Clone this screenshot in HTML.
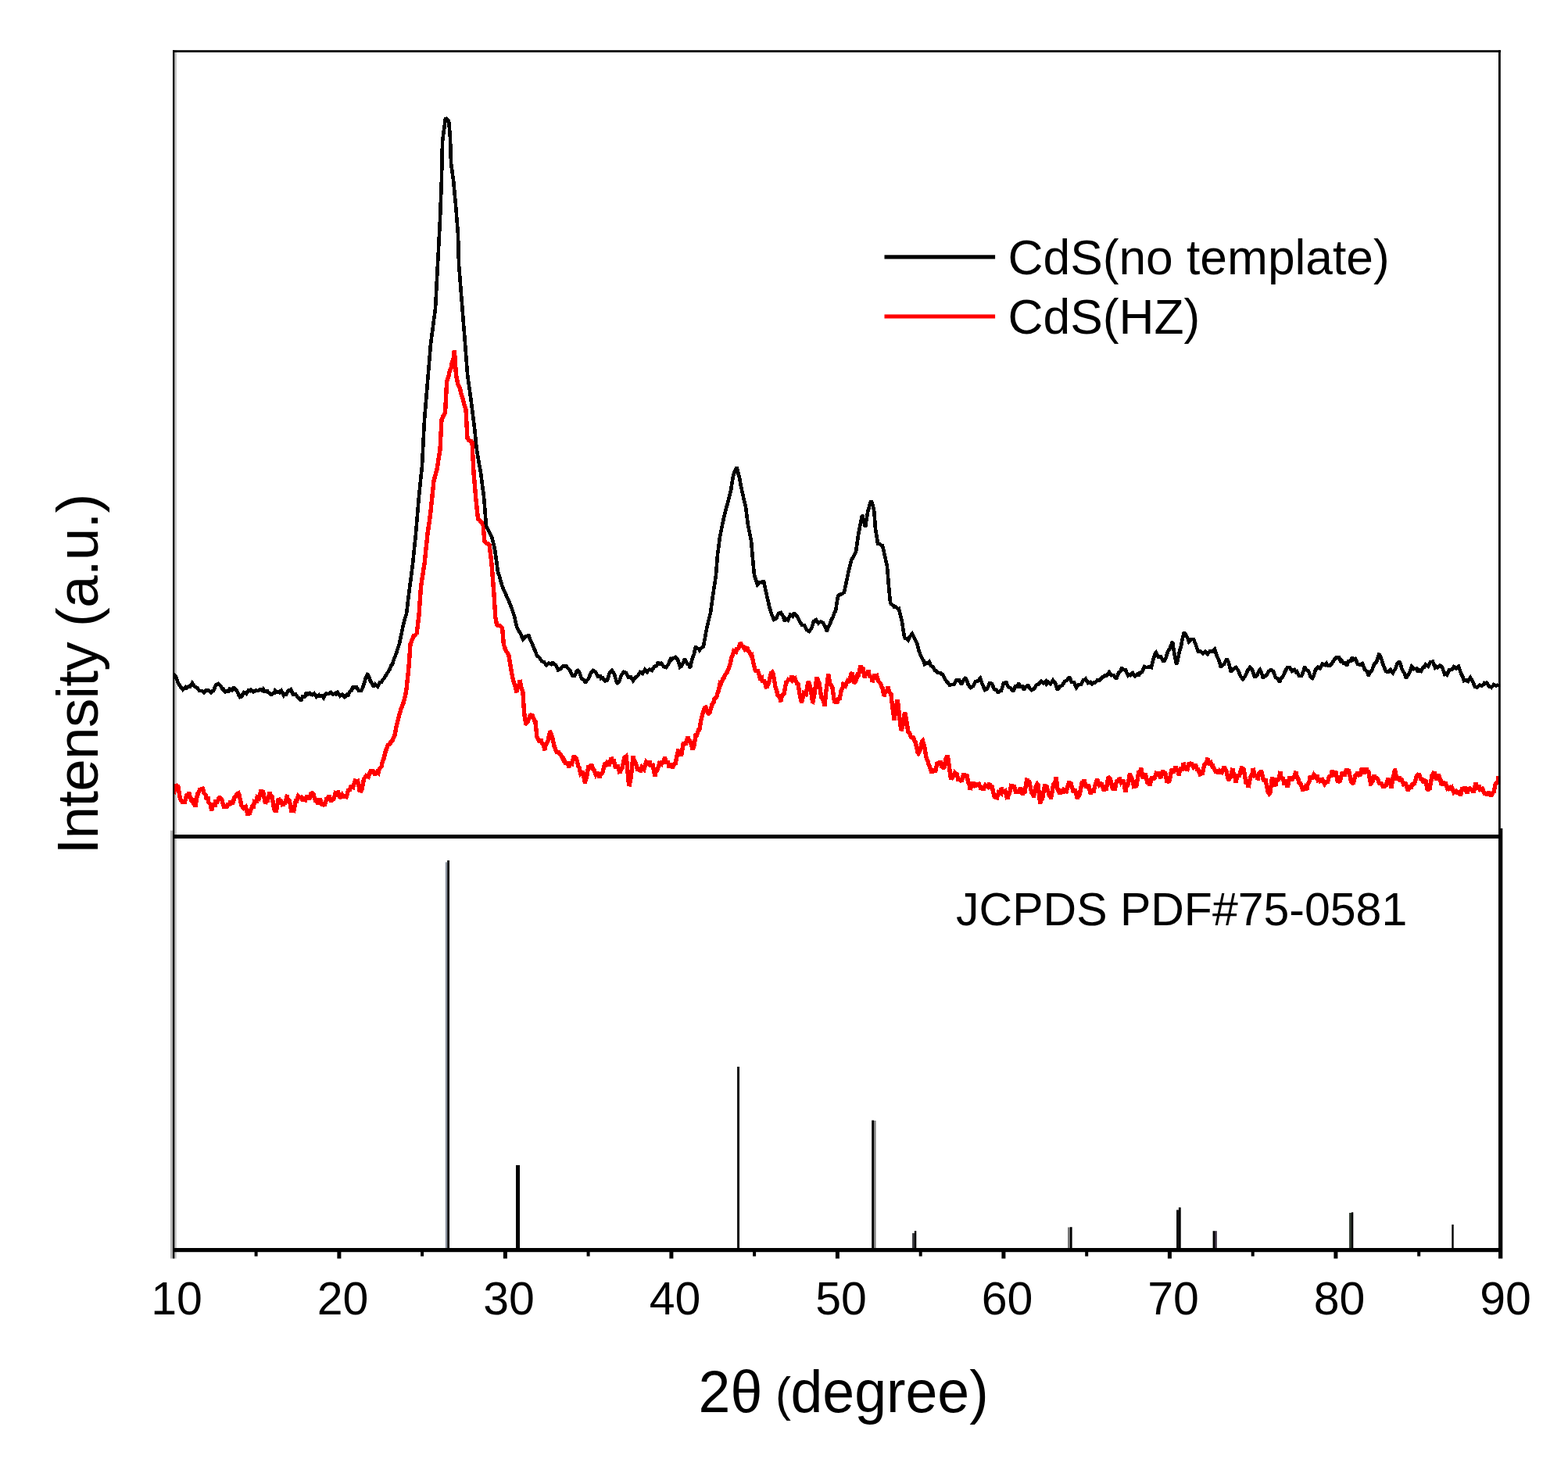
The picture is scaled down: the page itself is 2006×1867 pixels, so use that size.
<!DOCTYPE html>
<html><head><meta charset="utf-8"><title>XRD</title>
<style>html,body{margin:0;padding:0;background:#fff;} svg{display:block;}</style>
</head><body>
<svg width="2006" height="1867" viewBox="0 0 2006 1867" font-family='"Liberation Sans", Arial, sans-serif'>
<rect width="2006" height="1867" fill="#ffffff"/>
<rect x="223" y="64" width="3" height="1004" fill="#c8c8c8"/>
<rect x="218" y="1062.7" width="3" height="547.8" fill="#b4b4b4"/>
<rect x="223" y="1073" width="2.8" height="537.5" fill="#c8c8c8"/>
<defs><clipPath id="pa"><rect x="223" y="67" width="1694" height="1001"/></clipPath></defs>
<g clip-path="url(#pa)">
<path d="M222.0,1016.0 L223.4,1010.0 L224.8,1003.7 L226.8,1007.0 L227.6,1005.0 L230.4,1021.6 L231.4,1024.0 L233.2,1026.4 L234.8,1026.0 L236.0,1028.4 L238.8,1016.3 L240.4,1018.0 L241.6,1014.1 L244.4,1023.0 L246.0,1021.6 L247.2,1028.0 L249.5,1030.7 L250.0,1032.1 L252.8,1013.9 L252.9,1017.0 L255.6,1010.5 L258.4,1010.6 L258.6,1007.0 L261.2,1015.3 L263.0,1017.0 L264.0,1021.4 L266.5,1021.6 L266.8,1026.8 L269.6,1029.5 L270.5,1037.5 L272.4,1029.9 L275.2,1030.3 L275.6,1026.0 L278.0,1026.3 L280.8,1019.6 L281.3,1020.5 L283.6,1023.0 L286.4,1032.3 L288.1,1031.8 L289.2,1034.3 L292.0,1028.1 L293.8,1030.7 L294.8,1024.9 L297.6,1028.9 L300.4,1018.4 L301.7,1020.5 L303.2,1015.8 L305.1,1014.8 L306.0,1017.1 L308.8,1030.5 L309.7,1031.8 L311.6,1034.4 L314.4,1032.4 L317.2,1043.3 L317.6,1037.5 L320.0,1039.0 L322.8,1031.8 L324.4,1031.8 L325.6,1025.3 L328.4,1025.5 L329.0,1020.5 L331.2,1021.9 L334.0,1010.7 L334.6,1014.8 L336.8,1014.2 L339.6,1028.9 L340.3,1026.0 L342.4,1024.8 L345.2,1013.8 L346.0,1017.0 L348.0,1019.1 L350.8,1036.0 L351.7,1037.5 L353.6,1037.2 L356.4,1021.2 L357.3,1024.0 L359.2,1024.2 L361.9,1031.8 L362.0,1027.8 L364.8,1027.5 L367.6,1017.0 L367.6,1022.2 L370.4,1024.6 L373.2,1039.8 L373.2,1034.7 L376.0,1036.6 L378.8,1022.6 L378.9,1027.3 L381.6,1018.6 L384.4,1021.1 L384.6,1018.2 L387.2,1024.9 L390.0,1020.7 L390.2,1026.0 L392.8,1017.8 L395.6,1022.8 L398.4,1013.7 L399.3,1014.8 L401.2,1016.9 L403.9,1026.0 L404.0,1022.1 L406.8,1028.5 L409.6,1022.3 L412.4,1030.9 L413.0,1028.4 L415.2,1031.3 L418.0,1021.0 L418.6,1022.7 L420.8,1017.8 L423.6,1025.9 L425.0,1022.0 L426.4,1024.0 L429.2,1014.9 L432.0,1016.0 L432.0,1011.8 L434.8,1021.5 L437.6,1017.1 L440.0,1021.0 L440.4,1018.7 L443.2,1019.6 L446.0,1009.4 L447.0,1012.0 L448.8,1006.9 L451.6,1007.7 L454.4,999.0 L457.0,1000.0 L457.2,996.9 L460.0,1011.2 L462.0,1012.0 L462.8,1010.8 L465.6,996.4 L467.0,995.0 L468.4,992.8 L471.2,994.1 L474.0,987.0 L476.0,987.0 L476.8,985.5 L479.6,991.6 L482.4,987.6 L484.0,989.0 L485.2,983.9 L488.0,981.2 L489.0,976.0 L490.8,971.3 L493.6,960.3 L494.0,960.0 L496.4,953.3 L499.2,951.8 L500.0,949.0 L502.0,947.6 L504.8,940.8 L505.0,941.0 L507.6,927.0 L508.0,926.0 L510.4,916.4 L512.0,911.0 L513.2,906.5 L516.0,900.0 L516.0,899.6 L518.8,888.7 L520.0,882.0 L521.6,866.8 L523.0,853.0 L524.4,833.8 L525.0,824.0 L527.2,818.8 L529.0,814.0 L530.0,814.0 L532.8,811.1 L533.0,812.0 L535.6,789.9 L536.0,787.0 L538.4,752.1 L538.5,751.0 L541.2,732.9 L543.0,722.0 L544.0,711.8 L546.8,685.2 L547.0,683.0 L549.6,665.2 L551.0,654.0 L552.4,640.7 L555.0,615.0 L555.2,614.5 L558.0,604.0 L559.0,601.0 L560.8,589.0 L563.0,576.0 L563.6,563.4 L565.0,537.0 L566.4,533.6 L569.2,528.4 L569.6,527.0 L571.6,489.0 L572.0,487.3 L574.5,479.0 L574.8,476.8 L577.6,469.1 L578.0,465.0 L580.4,457.8 L581.3,448.0 L583.2,475.5 L584.0,483.0 L586.0,491.6 L588.8,498.4 L590.0,504.0 L591.6,508.2 L594.4,519.5 L596.0,524.0 L597.2,546.7 L598.0,561.0 L600.0,563.5 L602.8,564.5 L604.0,566.0 L605.6,596.9 L606.0,605.0 L608.4,633.1 L608.5,635.0 L611.2,660.9 L611.4,664.0 L614.0,666.0 L616.8,670.0 L618.0,670.0 L619.6,689.3 L620.0,693.0 L622.4,695.5 L625.2,696.1 L626.0,697.0 L628.0,712.5 L629.0,722.0 L630.8,744.9 L632.0,761.0 L633.6,785.9 L633.8,790.0 L635.5,799.0 L636.4,800.1 L639.2,800.3 L642.0,802.9 L642.5,802.0 L644.6,827.0 L644.8,826.8 L647.6,833.1 L650.4,837.5 L651.0,839.0 L653.2,852.3 L654.0,858.0 L656.0,867.8 L656.5,871.0 L658.8,877.0 L661.0,886.0 L661.6,882.3 L664.4,874.5 L665.0,870.0 L667.2,881.1 L669.0,886.0 L670.0,903.1 L671.0,915.0 L672.8,925.9 L673.0,926.0 L675.6,922.6 L678.4,915.1 L679.0,915.0 L681.2,915.6 L684.0,923.0 L685.0,922.0 L686.8,943.2 L687.0,943.0 L689.6,948.2 L692.4,947.9 L693.0,950.0 L695.2,953.0 L697.0,960.0 L698.0,953.2 L700.8,948.6 L703.6,937.1 L704.0,937.0 L706.4,942.5 L709.2,955.5 L710.0,957.0 L712.0,962.3 L714.8,962.5 L715.0,964.0 L717.6,966.1 L720.4,971.6 L721.0,971.0 L723.2,976.2 L726.0,976.9 L728.0,982.0 L728.8,977.0 L731.6,977.7 L734.4,967.0 L735.0,968.0 L737.2,970.1 L740.0,981.2 L741.0,982.0 L742.8,989.7 L745.6,987.1 L748.4,1002.1 L749.0,999.0 L751.2,991.4 L753.0,979.0 L754.0,983.6 L756.8,978.2 L759.6,986.2 L760.0,985.0 L762.4,991.6 L765.2,988.4 L767.0,995.0 L768.0,991.2 L770.8,988.7 L773.6,978.3 L775.0,979.0 L776.4,976.1 L779.2,979.8 L782.0,969.4 L784.0,974.0 L784.8,971.7 L787.6,982.9 L790.4,979.2 L793.0,990.0 L793.2,986.9 L796.0,982.8 L798.8,969.7 L801.0,968.0 L801.6,972.3 L804.4,1002.7 L805.0,1006.0 L807.2,995.2 L810.0,966.9 L810.0,971.0 L812.8,975.1 L815.6,984.4 L818.4,983.8 L819.0,988.0 L821.2,981.6 L824.0,984.4 L826.8,974.8 L829.6,977.3 L831.0,974.0 L832.4,979.5 L835.2,979.2 L838.0,993.8 L838.0,988.0 L840.8,986.0 L843.6,976.8 L846.0,978.0 L846.4,975.3 L849.2,975.3 L850.5,969.0 L852.0,975.6 L854.8,975.9 L856.0,982.0 L857.6,976.9 L860.4,982.3 L863.2,977.2 L864.0,978.0 L866.0,967.6 L867.6,961.0 L868.8,961.3 L871.6,967.4 L872.0,965.0 L874.0,953.0 L874.4,949.9 L877.2,953.2 L880.0,942.4 L880.5,945.0 L882.8,948.4 L885.6,957.2 L887.0,957.0 L888.4,952.2 L890.0,941.0 L891.2,941.2 L894.0,933.1 L895.0,933.0 L896.8,922.1 L898.0,917.0 L899.6,910.6 L902.0,905.0 L902.4,903.2 L905.2,912.0 L906.5,913.0 L908.0,911.8 L910.8,901.9 L913.0,899.0 L913.6,894.8 L916.4,892.7 L919.0,884.0 L919.2,885.5 L921.0,875.0 L922.0,875.8 L924.8,868.6 L926.0,868.0 L927.6,863.6 L930.4,860.1 L933.0,853.0 L933.2,853.4 L936.0,841.3 L938.0,836.0 L938.8,832.7 L941.6,834.1 L943.0,829.0 L944.4,831.2 L947.2,822.5 L950.0,827.6 L950.0,826.0 L952.8,831.0 L955.6,828.0 L957.0,833.0 L958.4,833.7 L961.2,839.6 L962.0,839.0 L964.0,848.7 L966.0,857.0 L966.8,858.7 L969.6,858.7 L972.4,867.7 L974.5,867.0 L975.2,871.2 L978.0,871.8 L980.8,881.0 L981.0,879.0 L983.6,873.7 L986.4,861.3 L988.0,860.0 L989.2,862.1 L992.0,878.9 L993.5,883.0 L994.8,889.2 L997.6,892.7 L999.0,898.0 L1000.4,889.6 L1003.2,887.5 L1006.0,871.2 L1006.0,874.0 L1008.8,869.4 L1011.6,869.8 L1013.0,865.0 L1014.4,870.4 L1017.2,868.2 L1020.0,876.3 L1021.0,874.0 L1022.8,886.8 L1025.0,897.0 L1025.6,899.1 L1028.4,886.8 L1031.2,888.4 L1034.0,872.1 L1035.0,874.0 L1036.8,879.9 L1039.6,897.8 L1040.0,898.0 L1042.4,885.3 L1045.0,866.0 L1045.2,867.8 L1048.0,873.6 L1050.8,892.5 L1053.6,896.6 L1055.0,904.0 L1056.4,887.9 L1059.2,867.9 L1059.5,862.0 L1062.0,875.1 L1064.8,878.8 L1067.6,899.2 L1068.0,896.0 L1070.4,900.1 L1073.2,892.9 L1074.0,896.0 L1076.0,884.2 L1078.8,878.3 L1079.0,876.0 L1081.6,877.7 L1084.4,871.3 L1087.0,873.0 L1087.2,868.6 L1089.0,862.0 L1090.0,860.8 L1092.8,872.9 L1093.5,873.0 L1095.6,870.4 L1097.0,863.0 L1098.4,863.4 L1101.2,851.6 L1101.6,855.0 L1104.0,855.4 L1106.5,868.0 L1106.8,863.5 L1109.6,862.1 L1111.0,858.0 L1112.4,865.3 L1115.2,866.6 L1116.0,873.0 L1118.0,864.8 L1120.8,865.1 L1121.0,862.0 L1123.6,871.7 L1126.4,874.4 L1127.5,878.0 L1129.2,880.8 L1131.0,891.0 L1132.0,886.3 L1134.8,883.9 L1136.0,879.0 L1137.6,885.6 L1140.0,888.0 L1140.4,894.3 L1143.2,914.4 L1144.0,922.0 L1146.0,906.7 L1148.0,896.0 L1148.8,899.7 L1151.6,925.3 L1153.0,935.0 L1154.4,931.0 L1157.2,913.7 L1158.0,912.0 L1160.0,923.9 L1162.0,938.0 L1162.8,936.4 L1165.6,943.4 L1168.4,943.9 L1170.0,948.0 L1171.2,949.8 L1174.0,962.4 L1175.0,964.0 L1176.8,961.1 L1179.6,948.8 L1180.5,948.0 L1182.4,954.4 L1185.2,969.9 L1187.0,974.0 L1188.0,977.8 L1190.8,984.7 L1192.0,989.0 L1193.6,984.2 L1196.4,988.1 L1199.2,975.3 L1202.0,979.1 L1203.0,974.0 L1204.8,981.0 L1207.0,982.0 L1207.6,983.9 L1210.4,969.8 L1212.0,967.0 L1213.2,972.5 L1216.0,993.4 L1217.0,997.0 L1218.8,994.9 L1221.6,988.6 L1222.0,989.0 L1224.4,991.1 L1226.0,999.0 L1227.2,996.1 L1230.0,1000.3 L1232.8,990.1 L1235.6,994.6 L1237.0,991.0 L1238.4,1000.4 L1241.0,1007.0 L1241.2,1010.8 L1244.0,1001.2 L1246.8,1004.8 L1249.0,1002.0 L1249.6,1004.6 L1252.4,1003.3 L1255.0,1010.0 L1255.2,1006.2 L1258.0,1010.5 L1260.8,1004.6 L1263.6,1006.9 L1266.0,1002.0 L1266.4,1007.5 L1269.2,1007.1 L1272.0,1019.2 L1274.8,1020.0 L1275.0,1023.0 L1277.6,1013.7 L1280.4,1015.3 L1281.0,1008.0 L1283.2,1013.6 L1286.0,1012.1 L1288.8,1022.9 L1289.0,1020.0 L1291.6,1015.0 L1294.0,1003.0 L1294.4,1008.9 L1297.2,1005.1 L1300.0,1015.0 L1302.0,1012.0 L1302.8,1014.7 L1305.6,1007.7 L1308.4,1017.1 L1310.0,1012.0 L1311.2,1012.6 L1314.0,995.7 L1314.0,999.0 L1316.8,1000.2 L1319.6,1013.8 L1322.0,1018.0 L1322.4,1020.0 L1325.2,1006.0 L1327.0,1003.0 L1328.0,1004.2 L1330.8,1028.5 L1331.0,1024.0 L1333.6,1022.2 L1336.4,1005.7 L1338.0,1006.0 L1339.2,1006.7 L1342.0,1017.0 L1344.0,1020.0 L1344.8,1020.0 L1347.6,1004.3 L1350.4,998.9 L1351.0,994.0 L1353.2,1010.9 L1355.0,1014.0 L1356.0,1016.0 L1358.8,1009.7 L1361.0,1015.0 L1361.6,1011.0 L1364.4,1012.6 L1367.2,1002.0 L1369.0,1002.0 L1370.0,1002.2 L1372.8,1012.2 L1375.6,1011.8 L1378.4,1022.4 L1379.0,1020.0 L1381.2,1017.0 L1384.0,1002.0 L1386.0,1002.0 L1386.8,997.6 L1389.6,1008.4 L1392.4,1003.8 L1395.2,1016.0 L1398.0,1010.2 L1399.0,1014.0 L1400.8,1005.5 L1403.0,999.0 L1403.6,997.2 L1406.4,1004.6 L1409.2,1001.7 L1412.0,1011.7 L1414.8,1008.8 L1415.0,1012.0 L1417.6,995.7 L1419.0,995.0 L1420.4,996.3 L1423.2,1008.9 L1425.0,1009.0 L1426.0,1011.0 L1428.8,998.3 L1431.6,1001.2 L1432.0,995.0 L1434.4,1001.5 L1437.2,998.3 L1440.0,1013.6 L1440.0,1008.0 L1442.8,1004.4 L1445.6,989.7 L1446.0,993.0 L1448.4,996.3 L1451.0,1009.0 L1451.2,1004.8 L1454.0,1005.0 L1456.8,988.0 L1459.0,987.0 L1459.6,982.4 L1462.4,996.5 L1465.2,989.6 L1468.0,1001.8 L1470.0,1002.0 L1470.8,1005.5 L1473.6,994.0 L1476.4,997.4 L1479.2,989.5 L1481.0,990.0 L1482.0,988.1 L1484.8,995.7 L1487.6,986.2 L1489.0,989.0 L1490.4,987.6 L1493.2,1001.3 L1495.0,999.0 L1496.0,999.0 L1498.8,986.1 L1501.6,987.2 L1504.0,981.0 L1504.4,983.0 L1507.2,987.7 L1508.0,992.0 L1510.0,984.1 L1512.8,984.1 L1514.0,976.0 L1515.6,983.3 L1518.0,983.0 L1518.4,986.9 L1521.2,975.9 L1524.0,979.3 L1524.0,976.0 L1526.8,981.5 L1529.6,978.3 L1532.0,986.0 L1532.4,983.1 L1535.2,990.9 L1537.0,990.0 L1538.0,991.1 L1540.8,978.8 L1543.6,976.0 L1545.0,970.0 L1546.4,978.6 L1549.2,976.2 L1551.0,981.0 L1552.0,980.7 L1554.8,986.9 L1557.6,986.5 L1559.0,990.0 L1560.4,986.2 L1563.2,988.4 L1566.0,981.2 L1567.0,983.0 L1568.8,986.1 L1571.6,998.8 L1572.0,998.0 L1574.4,994.1 L1577.0,983.0 L1577.2,986.8 L1580.0,994.4 L1581.0,1002.0 L1582.8,992.7 L1585.6,992.3 L1588.4,982.8 L1589.0,983.0 L1591.2,984.3 L1594.0,1001.8 L1596.8,1002.4 L1597.0,1008.0 L1599.6,995.4 L1602.4,989.0 L1603.0,983.0 L1605.2,992.8 L1608.0,992.5 L1609.0,998.0 L1610.8,989.6 L1613.0,987.0 L1613.6,986.0 L1616.4,998.1 L1619.2,998.7 L1622.0,1013.3 L1624.0,1016.0 L1624.8,1015.3 L1627.6,994.5 L1628.0,996.0 L1630.4,1000.0 L1632.0,1006.0 L1633.2,997.9 L1636.0,997.3 L1638.0,987.0 L1638.8,994.1 L1641.6,996.2 L1643.0,1005.0 L1644.4,997.6 L1647.2,1007.2 L1650.0,993.6 L1652.8,999.5 L1653.0,996.0 L1655.6,994.5 L1658.0,987.0 L1658.4,991.6 L1661.2,997.9 L1662.0,1002.0 L1664.0,1002.5 L1666.8,1011.7 L1669.6,1007.1 L1672.0,1011.0 L1672.4,1004.7 L1675.2,999.9 L1676.0,993.0 L1678.0,996.9 L1680.8,991.2 L1683.6,995.0 L1685.0,992.0 L1686.4,998.6 L1689.0,998.0 L1689.2,999.2 L1692.0,997.6 L1694.8,1003.3 L1697.6,1000.0 L1698.0,1002.0 L1700.4,993.9 L1703.2,992.3 L1704.0,986.0 L1706.0,990.4 L1708.8,987.2 L1711.6,1001.4 L1713.0,999.0 L1714.4,998.9 L1717.2,988.2 L1720.0,993.1 L1722.8,983.7 L1724.0,986.0 L1725.6,986.2 L1728.4,999.7 L1730.0,1002.0 L1731.2,1003.4 L1734.0,992.5 L1736.0,990.0 L1736.8,988.0 L1739.6,993.5 L1742.4,982.7 L1745.2,990.5 L1748.0,982.5 L1749.0,986.0 L1750.8,987.5 L1753.6,1003.1 L1754.0,1003.0 L1756.4,998.9 L1758.0,992.0 L1759.2,994.9 L1762.0,995.9 L1764.8,1002.6 L1767.6,1002.9 L1770.0,1008.0 L1770.4,1006.0 L1773.2,1004.9 L1776.0,995.6 L1776.0,998.0 L1778.8,1002.5 L1780.0,1009.0 L1781.6,996.2 L1784.0,989.0 L1784.4,983.8 L1787.2,998.4 L1790.0,993.9 L1792.0,1000.0 L1792.8,996.2 L1795.6,1003.9 L1798.4,1003.0 L1801.2,1011.9 L1804.0,1004.7 L1805.0,1009.0 L1806.8,1003.8 L1809.6,1002.7 L1812.4,992.8 L1814.0,992.0 L1815.2,989.7 L1818.0,998.3 L1819.0,996.0 L1820.8,1001.5 L1823.6,997.4 L1826.4,1011.7 L1828.0,1009.0 L1829.2,1008.6 L1832.0,992.5 L1834.0,989.0 L1834.8,987.6 L1837.6,997.9 L1840.4,990.8 L1843.2,1000.8 L1844.0,1000.0 L1846.0,1004.7 L1848.8,1000.7 L1851.6,1009.2 L1854.0,1008.0 L1854.4,1009.3 L1857.2,1007.4 L1860.0,1014.2 L1862.8,1012.4 L1865.0,1016.0 L1865.6,1011.4 L1868.4,1018.1 L1871.2,1007.5 L1872.0,1011.0 L1874.0,1006.6 L1876.8,1015.2 L1879.6,1007.8 L1882.0,1011.0 L1882.4,1009.4 L1885.2,1013.9 L1888.0,1001.8 L1890.8,1010.7 L1892.0,1005.0 L1893.6,1010.4 L1896.4,1009.1 L1899.2,1015.3 L1902.0,1015.2 L1903.0,1018.0 L1904.8,1013.3 L1907.6,1018.3 L1910.4,1013.0 L1911.0,1014.0 L1913.2,1002.9 L1916.0,1000.6 L1917.0,993.0" fill="none" stroke="#ff0000" stroke-width="5.4" stroke-linejoin="miter" stroke-miterlimit="2" shape-rendering="crispEdges"/>
<path d="M222.0,862.0 L225.0,866.0 L228.0,874.0 L231.0,879.1 L232.0,880.0 L234.0,882.6 L237.0,879.5 L238.0,882.0 L240.0,878.8 L243.0,878.7 L246.0,874.0 L249.0,878.5 L252.0,880.0 L255.0,883.7 L258.0,884.0 L261.0,886.2 L264.0,883.2 L266.0,884.0 L267.0,883.4 L270.0,886.1 L272.0,884.0 L273.0,884.1 L276.0,876.7 L279.0,875.0 L282.0,877.4 L285.0,882.4 L286.0,882.0 L288.0,885.3 L291.0,884.3 L292.0,886.0 L294.0,881.5 L297.0,883.3 L299.0,879.0 L300.0,880.8 L303.0,884.0 L306.0,890.6 L307.0,892.0 L309.0,891.3 L312.0,886.0 L315.0,887.7 L318.0,883.2 L320.0,884.0 L321.0,883.0 L324.0,885.5 L327.0,883.4 L330.0,884.0 L333.0,882.1 L336.0,883.7 L337.0,882.0 L339.0,884.9 L342.0,884.3 L343.0,886.0 L345.0,886.9 L347.0,890.0 L348.0,887.8 L351.0,886.8 L352.0,884.0 L354.0,885.9 L357.0,885.0 L358.0,886.0 L360.0,884.1 L363.0,889.6 L364.0,888.0 L366.0,888.7 L369.0,883.7 L370.0,884.0 L372.0,882.5 L375.0,888.6 L378.0,888.0 L381.0,892.6 L384.0,894.4 L385.0,897.0 L387.0,891.6 L390.0,891.3 L392.0,886.0 L393.0,889.1 L396.0,887.2 L398.0,890.0 L399.0,887.0 L400.0,889.0 L402.0,887.6 L405.0,891.7 L408.0,889.4 L410.0,892.0 L411.0,889.0 L414.0,892.8 L417.0,887.6 L420.0,888.0 L423.0,886.1 L426.0,888.7 L429.0,886.9 L430.0,888.0 L432.0,886.1 L435.0,890.5 L438.0,888.6 L441.0,891.8 L444.0,889.1 L445.0,891.0 L447.0,885.6 L450.0,882.9 L452.0,878.0 L453.0,879.8 L456.0,879.1 L459.0,883.9 L462.0,884.0 L465.0,877.5 L468.0,867.0 L470.0,863.0 L471.0,863.4 L474.0,871.7 L477.0,876.4 L478.0,879.0 L480.0,875.8 L483.0,878.6 L486.0,872.9 L488.0,873.0 L489.0,870.5 L492.0,867.2 L495.0,862.0 L498.0,857.6 L501.0,850.5 L502.0,850.0 L504.0,843.5 L507.0,836.0 L510.0,826.4 L511.0,824.0 L513.0,813.3 L514.0,809.0 L516.0,799.4 L517.0,795.0 L519.0,788.6 L520.0,786.0 L522.0,768.8 L523.0,761.0 L525.0,745.1 L528.0,722.0 L531.0,692.5 L532.0,683.0 L534.0,658.9 L536.0,635.0 L537.0,625.0 L540.0,596.0 L543.0,537.0 L546.0,501.3 L547.0,489.0 L549.0,464.6 L551.0,440.0 L552.0,432.8 L555.0,409.8 L557.0,395.0 L558.0,375.8 L560.0,338.0 L561.0,318.8 L563.0,281.0 L564.0,254.3 L565.0,228.0 L566.0,181.0 L567.0,173.7 L570.0,151.0 L573.0,154.3 L574.0,153.0 L576.0,177.0 L577.0,209.0 L579.0,223.2 L580.0,230.0 L582.0,251.4 L583.0,262.0 L585.0,287.6 L586.0,300.0 L587.0,338.0 L588.0,350.5 L590.0,376.0 L591.0,388.6 L593.0,414.0 L594.0,426.5 L596.0,452.0 L597.0,465.3 L598.0,479.0 L600.0,493.3 L602.0,508.0 L603.0,515.6 L606.0,539.5 L607.0,547.0 L609.0,566.7 L610.0,576.0 L612.0,587.9 L615.0,605.0 L618.0,627.8 L619.0,635.0 L621.0,660.5 L622.0,673.0 L624.0,677.2 L627.0,682.8 L629.0,687.0 L630.0,690.5 L633.0,703.0 L636.0,724.0 L637.0,732.0 L639.0,737.6 L642.0,748.6 L643.0,751.0 L645.0,756.3 L647.0,760.0 L648.0,762.8 L651.0,768.7 L652.0,772.0 L654.0,776.6 L657.0,785.6 L658.0,788.0 L660.0,797.6 L661.0,802.0 L663.0,806.3 L666.0,810.8 L669.0,818.0 L672.0,814.7 L675.0,813.4 L676.0,812.0 L678.0,818.1 L681.0,823.8 L682.0,827.0 L684.0,831.4 L687.0,839.0 L690.0,841.5 L693.0,846.1 L696.0,847.3 L699.0,851.0 L702.0,848.5 L705.0,849.8 L707.0,847.0 L708.0,849.6 L711.0,850.8 L714.0,857.3 L715.0,857.0 L717.0,856.2 L720.0,852.4 L723.0,853.0 L724.0,851.0 L726.0,854.6 L729.0,857.3 L732.0,864.3 L734.0,865.0 L735.0,864.9 L738.0,858.6 L739.0,858.0 L741.0,859.7 L744.0,868.1 L747.0,870.2 L749.0,874.0 L750.0,871.8 L753.0,868.4 L756.0,860.9 L759.0,858.0 L762.0,860.1 L765.0,865.8 L768.0,865.2 L769.0,868.0 L771.0,867.2 L774.0,871.5 L775.0,871.0 L777.0,870.5 L780.0,860.4 L783.0,858.0 L786.0,863.1 L789.0,872.8 L790.0,874.0 L792.0,872.6 L795.0,863.7 L798.0,860.0 L801.0,860.8 L804.0,866.8 L807.0,866.2 L810.0,871.0 L813.0,866.7 L816.0,864.7 L819.0,860.0 L822.0,861.8 L825.0,857.0 L828.0,859.9 L831.0,856.4 L834.0,858.0 L837.0,852.9 L840.0,852.1 L842.0,847.0 L843.0,849.7 L846.0,848.4 L849.0,852.9 L852.0,854.0 L855.0,850.2 L858.0,843.2 L859.0,844.0 L861.0,842.2 L864.0,841.0 L867.0,843.7 L870.0,853.7 L871.0,853.0 L873.0,850.6 L876.0,843.0 L879.0,848.8 L882.0,851.7 L883.0,855.0 L885.0,845.2 L888.0,836.4 L890.0,827.0 L891.0,828.9 L894.0,830.3 L895.0,832.0 L897.0,829.4 L900.0,827.0 L903.0,810.2 L904.0,805.0 L906.0,796.1 L909.0,784.0 L912.0,762.0 L915.0,742.8 L916.0,736.0 L918.0,710.0 L921.0,687.0 L924.0,672.0 L927.0,658.3 L928.0,654.0 L930.0,647.1 L931.0,644.0 L933.0,635.4 L935.0,628.0 L936.0,621.2 L938.0,609.0 L939.0,605.4 L942.0,599.7 L942.5,597.0 L945.0,608.3 L946.0,611.0 L948.0,622.5 L949.0,627.0 L951.0,636.0 L954.0,649.0 L957.0,672.0 L960.0,686.8 L961.0,692.0 L963.0,715.0 L965.0,736.0 L966.0,738.6 L969.0,748.0 L972.0,745.1 L975.0,745.3 L977.0,743.0 L978.0,748.3 L981.0,762.0 L984.0,775.2 L985.0,779.0 L987.0,785.5 L990.0,793.0 L993.0,791.6 L996.0,784.8 L999.0,784.0 L1002.0,789.2 L1004.0,795.0 L1005.0,791.4 L1008.0,793.5 L1011.0,786.8 L1014.0,788.6 L1016.0,784.0 L1017.0,786.5 L1020.0,788.7 L1023.0,795.4 L1025.0,798.0 L1026.0,799.6 L1029.0,800.1 L1032.0,806.0 L1035.0,808.0 L1038.0,804.4 L1041.0,795.3 L1042.0,795.0 L1044.0,793.2 L1047.0,797.4 L1050.0,795.3 L1053.0,797.0 L1056.0,802.5 L1058.0,808.0 L1059.0,803.6 L1062.0,798.3 L1064.0,792.0 L1065.0,791.2 L1068.0,782.9 L1069.0,782.0 L1071.0,769.0 L1072.0,763.0 L1074.0,761.0 L1077.0,760.2 L1080.0,758.0 L1083.0,743.8 L1085.0,734.0 L1086.0,730.0 L1089.0,717.0 L1092.0,712.2 L1095.0,706.0 L1098.0,685.0 L1101.0,669.0 L1103.0,659.0 L1104.0,662.1 L1107.0,675.0 L1110.0,655.6 L1111.0,652.0 L1113.0,645.0 L1114.6,641.0 L1116.0,644.5 L1118.0,652.0 L1119.0,663.5 L1120.0,677.0 L1122.0,689.2 L1123.0,696.0 L1125.0,696.1 L1128.0,697.9 L1129.0,698.0 L1131.0,706.9 L1132.0,711.0 L1134.0,720.6 L1135.0,725.0 L1137.0,750.0 L1139.0,771.0 L1140.0,772.9 L1143.0,775.2 L1144.0,777.0 L1146.0,776.7 L1149.0,779.3 L1150.0,779.0 L1152.0,787.5 L1154.0,795.0 L1155.0,802.7 L1157.0,815.0 L1158.0,816.9 L1161.0,817.9 L1162.0,819.0 L1164.0,814.6 L1167.0,811.0 L1170.0,816.6 L1173.0,823.0 L1176.0,834.0 L1179.0,841.3 L1182.0,846.3 L1183.0,850.0 L1185.0,848.6 L1188.0,848.2 L1189.0,847.0 L1191.0,852.1 L1194.0,853.8 L1196.0,858.0 L1197.0,858.0 L1200.0,860.8 L1203.0,861.2 L1205.0,863.0 L1206.0,862.9 L1209.0,869.3 L1212.0,873.0 L1215.0,876.7 L1218.0,876.0 L1221.0,875.3 L1224.0,869.0 L1225.0,871.0 L1227.0,870.5 L1230.0,876.0 L1233.0,870.1 L1235.0,868.0 L1236.0,868.6 L1239.0,876.6 L1242.0,880.0 L1245.0,877.8 L1248.0,871.9 L1251.0,871.6 L1254.0,868.0 L1257.0,876.1 L1260.0,883.0 L1263.0,881.4 L1266.0,874.3 L1267.0,874.0 L1269.0,874.9 L1272.0,882.1 L1275.0,883.1 L1277.0,887.0 L1278.0,884.8 L1281.0,883.8 L1284.0,874.2 L1286.0,874.0 L1287.0,872.4 L1290.0,879.2 L1293.0,880.6 L1296.0,885.0 L1299.0,878.3 L1302.0,878.4 L1303.0,874.0 L1305.0,878.3 L1308.0,878.2 L1310.0,883.0 L1311.0,879.7 L1314.0,878.5 L1315.0,876.0 L1317.0,880.6 L1320.0,883.0 L1323.0,881.4 L1326.0,876.5 L1329.0,875.4 L1332.0,872.0 L1335.0,874.4 L1338.0,871.7 L1339.0,875.0 L1341.0,872.9 L1344.0,875.1 L1347.0,870.5 L1348.0,872.0 L1350.0,873.7 L1353.0,883.0 L1356.0,878.3 L1359.0,877.2 L1362.0,871.8 L1365.0,870.6 L1368.0,866.0 L1371.0,872.9 L1374.0,873.0 L1377.0,880.0 L1380.0,876.0 L1383.0,875.8 L1386.0,870.2 L1388.0,870.0 L1389.0,868.8 L1392.0,874.1 L1395.0,872.8 L1397.0,875.0 L1398.0,873.8 L1401.0,873.6 L1404.0,870.2 L1407.0,870.4 L1410.0,866.6 L1412.0,866.0 L1413.0,864.5 L1416.0,864.5 L1419.0,860.0 L1422.0,864.2 L1425.0,863.9 L1428.0,869.0 L1431.0,861.0 L1434.0,858.4 L1435.0,854.0 L1437.0,856.9 L1440.0,857.3 L1443.0,864.0 L1444.0,863.0 L1446.0,863.9 L1449.0,861.2 L1452.0,865.1 L1455.0,862.8 L1457.0,865.0 L1458.0,861.1 L1461.0,860.0 L1464.0,853.0 L1467.0,854.2 L1470.0,853.2 L1473.0,854.0 L1476.0,841.9 L1478.0,836.0 L1479.0,834.9 L1482.0,840.6 L1485.0,840.3 L1488.0,845.8 L1489.0,846.0 L1491.0,843.5 L1494.0,834.1 L1497.0,829.1 L1500.0,821.0 L1503.0,840.3 L1505.0,850.0 L1506.0,847.9 L1509.0,832.8 L1511.0,827.0 L1512.0,820.9 L1515.0,809.0 L1518.0,813.4 L1521.0,821.0 L1524.0,818.1 L1527.0,818.0 L1530.0,825.4 L1533.0,834.0 L1536.0,833.7 L1539.0,836.2 L1542.0,834.0 L1545.0,837.0 L1548.0,833.1 L1551.0,833.9 L1554.0,831.0 L1557.0,840.1 L1560.0,846.4 L1562.0,854.0 L1563.0,851.2 L1566.0,850.2 L1569.0,843.9 L1570.0,844.0 L1572.0,848.2 L1575.0,860.0 L1578.0,856.0 L1581.0,854.0 L1584.0,857.8 L1587.0,865.3 L1590.0,869.0 L1593.0,865.2 L1596.0,858.4 L1599.0,854.0 L1602.0,857.2 L1605.0,865.7 L1606.0,866.0 L1608.0,864.5 L1611.0,857.9 L1612.0,857.0 L1614.0,861.2 L1616.0,868.0 L1617.0,866.1 L1620.0,864.5 L1623.0,859.2 L1626.0,857.0 L1629.0,859.2 L1632.0,867.0 L1635.0,868.5 L1637.0,873.0 L1638.0,869.3 L1641.0,866.2 L1644.0,859.3 L1647.0,854.0 L1650.0,854.0 L1653.0,858.9 L1656.0,857.1 L1658.0,860.0 L1659.0,859.2 L1662.0,865.1 L1665.0,865.0 L1668.0,858.1 L1669.0,853.0 L1671.0,857.1 L1674.0,858.8 L1677.0,866.6 L1679.0,868.0 L1680.0,866.6 L1683.0,857.2 L1684.0,856.0 L1686.0,853.6 L1689.0,855.2 L1692.0,849.6 L1695.0,851.1 L1697.0,849.0 L1698.0,851.4 L1701.0,852.0 L1704.0,848.9 L1707.0,844.0 L1710.0,841.0 L1713.0,841.4 L1716.0,847.7 L1717.0,846.0 L1719.0,848.9 L1722.0,848.6 L1723.0,852.0 L1725.0,846.1 L1728.0,845.5 L1730.0,841.0 L1731.0,844.4 L1734.0,843.1 L1737.0,850.0 L1738.0,850.0 L1740.0,851.0 L1743.0,849.0 L1746.0,856.8 L1749.0,859.1 L1751.0,865.0 L1752.0,860.7 L1755.0,858.3 L1758.0,850.0 L1761.0,847.0 L1764.0,837.7 L1765.0,838.0 L1767.0,842.5 L1770.0,851.9 L1773.0,859.0 L1776.0,859.8 L1779.0,857.1 L1782.0,861.0 L1783.0,859.0 L1785.0,856.2 L1788.0,848.4 L1790.0,847.0 L1791.0,847.4 L1794.0,857.6 L1797.0,861.8 L1799.0,868.0 L1800.0,865.0 L1803.0,861.7 L1806.0,853.0 L1809.0,856.2 L1812.0,855.7 L1814.0,860.0 L1815.0,857.0 L1818.0,858.8 L1821.0,853.8 L1822.0,854.0 L1824.0,850.4 L1827.0,852.5 L1830.0,846.9 L1831.0,847.0 L1833.0,846.6 L1836.0,854.2 L1837.0,853.0 L1839.0,854.6 L1842.0,851.4 L1844.0,853.0 L1845.0,853.5 L1848.0,862.6 L1849.0,862.0 L1851.0,863.5 L1854.0,857.4 L1857.0,857.0 L1860.0,853.2 L1863.0,855.6 L1866.0,853.0 L1869.0,861.4 L1872.0,867.6 L1873.0,871.0 L1875.0,870.0 L1878.0,871.7 L1881.0,867.1 L1882.0,869.0 L1884.0,871.6 L1887.0,879.0 L1888.0,879.0 L1890.0,879.6 L1893.0,876.6 L1896.0,877.6 L1899.0,874.2 L1900.0,875.0 L1902.0,873.8 L1905.0,878.5 L1907.0,879.0 L1908.0,879.7 L1911.0,876.2 L1914.0,877.5 L1917.0,876.0" fill="none" stroke="#000000" stroke-width="4.6" stroke-linejoin="miter" stroke-miterlimit="2" shape-rendering="crispEdges"/>
</g>
<rect x="569.8" y="1103.3" width="2.4" height="494.7" fill="#8c94a0"/>
<rect x="572.2" y="1101" width="2.8" height="497.0" fill="#000"/>
<rect x="660.0" y="1491" width="5.0" height="107.0" fill="#000"/>
<rect x="943.1" y="1365" width="2.9" height="233.0" fill="#000"/>
<rect x="1115.2" y="1433.6" width="2.9" height="164.4" fill="#000"/>
<rect x="1118.1" y="1434" width="2.5" height="164.0" fill="#808080"/>
<rect x="1167.1" y="1578" width="2.8" height="20.0" fill="#333338"/>
<rect x="1169.9" y="1575.1" width="2.4" height="22.9" fill="#000"/>
<rect x="1366.0" y="1570.5" width="2.8" height="27.5" fill="#787878"/>
<rect x="1368.8" y="1570.2" width="2.8" height="27.8" fill="#000"/>
<rect x="1505.1" y="1548.3" width="2.8" height="49.7" fill="#000"/>
<rect x="1507.9" y="1545.1" width="2.8" height="52.9" fill="#000"/>
<rect x="1551.6" y="1575.2" width="2.4" height="22.8" fill="#000"/>
<rect x="1554.0" y="1575.2" width="2.8" height="22.8" fill="#3a3040"/>
<rect x="1726.1" y="1552" width="2.8" height="46.0" fill="#2a342a"/>
<rect x="1728.9" y="1551.3" width="2.4" height="46.7" fill="#000"/>
<rect x="1857.3" y="1567" width="2.4" height="31.0" fill="#000"/>
<rect x="221" y="64.2" width="1699" height="2.8" fill="#000"/>
<rect x="221" y="64.2" width="2.3" height="1546.3" fill="#000"/>
<rect x="1917" y="64.2" width="2.8" height="1000" fill="#000"/>
<rect x="1917" y="1060" width="5.3" height="550.5" fill="#000"/>
<rect x="221" y="1068" width="1701" height="5" fill="#000"/>
<rect x="221" y="1597" width="1701" height="5.2" fill="#000"/>
<rect x="431.4" y="1600" width="5" height="10.5" fill="#000"/>
<rect x="643.9" y="1600" width="5" height="10.5" fill="#000"/>
<rect x="856.4" y="1600" width="5" height="10.5" fill="#000"/>
<rect x="1068.9" y="1600" width="5" height="10.5" fill="#000"/>
<rect x="1281.4" y="1600" width="5" height="10.5" fill="#000"/>
<rect x="1493.9" y="1600" width="5" height="10.5" fill="#000"/>
<rect x="1706.4" y="1600" width="5" height="10.5" fill="#000"/>
<rect x="325.6" y="1600" width="4" height="7.6" fill="#000"/>
<rect x="538.1" y="1600" width="4" height="7.6" fill="#000"/>
<rect x="750.6" y="1600" width="4" height="7.6" fill="#000"/>
<rect x="963.1" y="1600" width="4" height="7.6" fill="#000"/>
<rect x="1175.7" y="1600" width="4" height="7.6" fill="#000"/>
<rect x="1388.2" y="1600" width="4" height="7.6" fill="#000"/>
<rect x="1600.7" y="1600" width="4" height="7.6" fill="#000"/>
<rect x="1813.2" y="1600" width="4" height="7.6" fill="#000"/>
<text x="226.0" y="1682" font-size="59" text-anchor="middle" fill="#000">10</text>
<text x="438.5" y="1682" font-size="59" text-anchor="middle" fill="#000">20</text>
<text x="651.0" y="1682" font-size="59" text-anchor="middle" fill="#000">30</text>
<text x="863.5" y="1682" font-size="59" text-anchor="middle" fill="#000">40</text>
<text x="1076.0" y="1682" font-size="59" text-anchor="middle" fill="#000">50</text>
<text x="1288.5" y="1682" font-size="59" text-anchor="middle" fill="#000">60</text>
<text x="1501.0" y="1682" font-size="59" text-anchor="middle" fill="#000">70</text>
<text x="1713.5" y="1682" font-size="59" text-anchor="middle" fill="#000">80</text>
<text x="1926.0" y="1682" font-size="59" text-anchor="middle" fill="#000">90</text>
<rect x="1131.5" y="326.3" width="141.6" height="5.1" fill="#000"/>
<rect x="1131.5" y="402.4" width="141.6" height="5.1" fill="#ff0000"/>
<text x="1289.5" y="350.6" font-size="62.3" fill="#000">CdS(no template)</text>
<text x="1289.5" y="426.7" font-size="62.3" fill="#000">CdS(HZ)</text>
<text x="1223.1" y="1183.6" font-size="59" fill="#000">JCPDS PDF#75-0581</text>
<text transform="translate(125,1093.5) rotate(-90)" font-size="75" textLength="462" lengthAdjust="spacing" fill="#000">Intensity (a.u.)</text>
<text transform="translate(893.5,1806.7) scale(1,1.03)" x="0" y="0" font-size="73.5" fill="#000"><tspan>2θ </tspan><tspan x="98.5" y="-1.85" font-size="60">(</tspan><tspan x="117.9" y="0">degree)</tspan></text>
</svg>
</body></html>
